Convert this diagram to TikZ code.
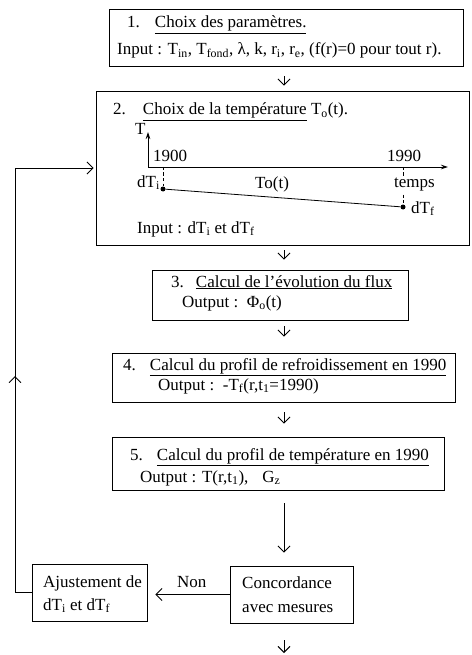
\documentclass[tikz,border=0pt]{standalone}
\usepackage{fontspec}
\setmainfont{Liberation Serif}
\usetikzlibrary{arrows.meta}

\begin{document}
\begin{tikzpicture}[x=1pt, y=-1pt,
  box/.style={draw, line width=0.8pt, inner sep=0pt},
  txt/.style={anchor=base west, inner sep=0pt, font=\fontsize{17}{20}\selectfont},
  arr/.style={-{Straight Barb[length=6pt,width=12pt]}, line width=0.9pt},
  axis/.style={-{Stealth[length=7pt,width=4.5pt]}, line width=0.8pt},
  dot/.style={circle, fill, inner sep=0pt, minimum size=5pt},
  tick/.style={line width=0.8pt, dash pattern=on 3pt off 2.5pt}
]
\useasboundingbox (0,0) rectangle (471,655);

% boxes
\node[box, minimum width=354pt, minimum height=57pt] (b1) at (286,37.5) {};
\node[box, minimum width=373pt, minimum height=154pt] (b2) at (282.5,168) {};
\node[box, minimum width=256pt, minimum height=50pt] (b3) at (280,295) {};
\node[box, minimum width=343pt, minimum height=49pt] (b4) at (283.5,377.5) {};
\node[box, minimum width=332pt, minimum height=53pt] (b5) at (278,463.5) {};
\node[box, minimum width=123pt, minimum height=57pt] (conc) at (291.5,594.5) {};
\node[box, minimum width=115pt, minimum height=57pt] (adj) at (89.5,592.5) {};

% box texts
\node[txt] (t1a) at (127,28) {1.\hspace{15pt}\underline{Choix des paramètres.}};
\node[txt] (t1b) at (117,55) {Input : T\textsubscript{in}, T\textsubscript{fond}, λ, k, r\textsubscript{i}, r\textsubscript{e}, (f(r)=0 pour tout r).};
\node[txt] (t2a) at (113,115) {2.\hspace{17pt}\underline{Choix de la température} T\textsubscript{o}(t).};
\node[txt] (t2b) at (137,233) {Input : dT\textsubscript{i} et dT\textsubscript{f}};
\node[txt] (t3a) at (171,287) {3.\hspace{12pt}\underline{Calcul de l'évolution du flux}};
\node[txt] (t3b) at (182,307) {Output :\ \ Φ\textsubscript{o}(t)};
\node[txt] (t4a) at (123,370) {4.\hspace{14pt}\underline{Calcul du profil de refroidissement en 1990}};
\node[txt] (t4b) at (158,390) {Output :\ \ -T\textsubscript{f}(r,t\textsubscript{1}=1990)};
\node[txt] (t5a) at (130,460) {5.\hspace{14pt}\underline{Calcul du profil de température en 1990}};
\node[txt] (t5b) at (140,482) {Output : T(r,t\textsubscript{1}),\hspace{14pt}G\textsubscript{z}};
\node[txt] (tc1) at (242,588) {Concordance};
\node[txt] (tc2) at (242,612) {avec mesures};
\node[txt] (ta1) at (43,587) {Ajustement de};
\node[txt] (ta2) at (43,610) {dT\textsubscript{i} et dT\textsubscript{f}};
\node[txt] (non) at (177,587) {Non};

% T_o(t) sketch
\coordinate (o) at (148,167);
\coordinate (ytop) at (148,132);
\coordinate (xend) at (448,167);
\draw[axis] (o) -- (ytop);
\draw[axis] (o) -- (xend);
\node[dot] (di) at (163,189) {};
\node[dot] (df) at (403,207) {};
\draw[line width=0.8pt] (di) -- (df);
\draw[tick] (di |- o) -- (di.north);
\draw[tick] (df |- o) -- (df.north);
\node[txt] (tT) at (135,135) {T};
\node[txt] (t1900) at (153,162) {1900};
\node[txt] (t1990) at (387,162) {1990};
\node[txt] (tdTi) at (137,187) {dT\textsubscript{i}};
\node[txt] (tTo) at (255,188) {To(t)};
\node[txt, fill=white, inner ysep=1pt] (ttemps) at (394,187) {temps};
\node[txt] (tdTf) at (411,213) {dT\textsubscript{f}};

% flow arrows
\coordinate (ax) at (284,0);
\draw[arr, shorten <=10pt, shorten >=5pt] (b1.south -| ax) -- (b2.north -| ax);
\draw[arr, shorten <=5pt, shorten >=10pt] (b2.south -| ax) -- (b3.north -| ax);
\draw[arr, shorten <=6pt, shorten >=16pt] (b3.south -| ax) -- (b4.north -| ax);
\draw[arr, shorten <=10pt, shorten >=13pt] (b4.south -| ax) -- (b5.north -| ax);
\draw[arr, shorten <=13pt, shorten >=13pt] (b5.south -| ax) -- (conc.north -| ax);
\coordinate (fin) at (284,653);
\draw[arr, shorten <=17pt] (conc.south -| ax) -- (fin);
\draw[arr, shorten >=8pt] (conc.west) -- (conc.west -| adj.east);

% feedback loop
\coordinate (fbl) at (15,592.5);
\coordinate (fbm) at (15,376);
\draw[arr, shorten >=2pt] (adj.west) -- (fbl) |- (b2.west);
\draw[arr] (fbl) -- (fbm);
\end{tikzpicture}
\end{document}
